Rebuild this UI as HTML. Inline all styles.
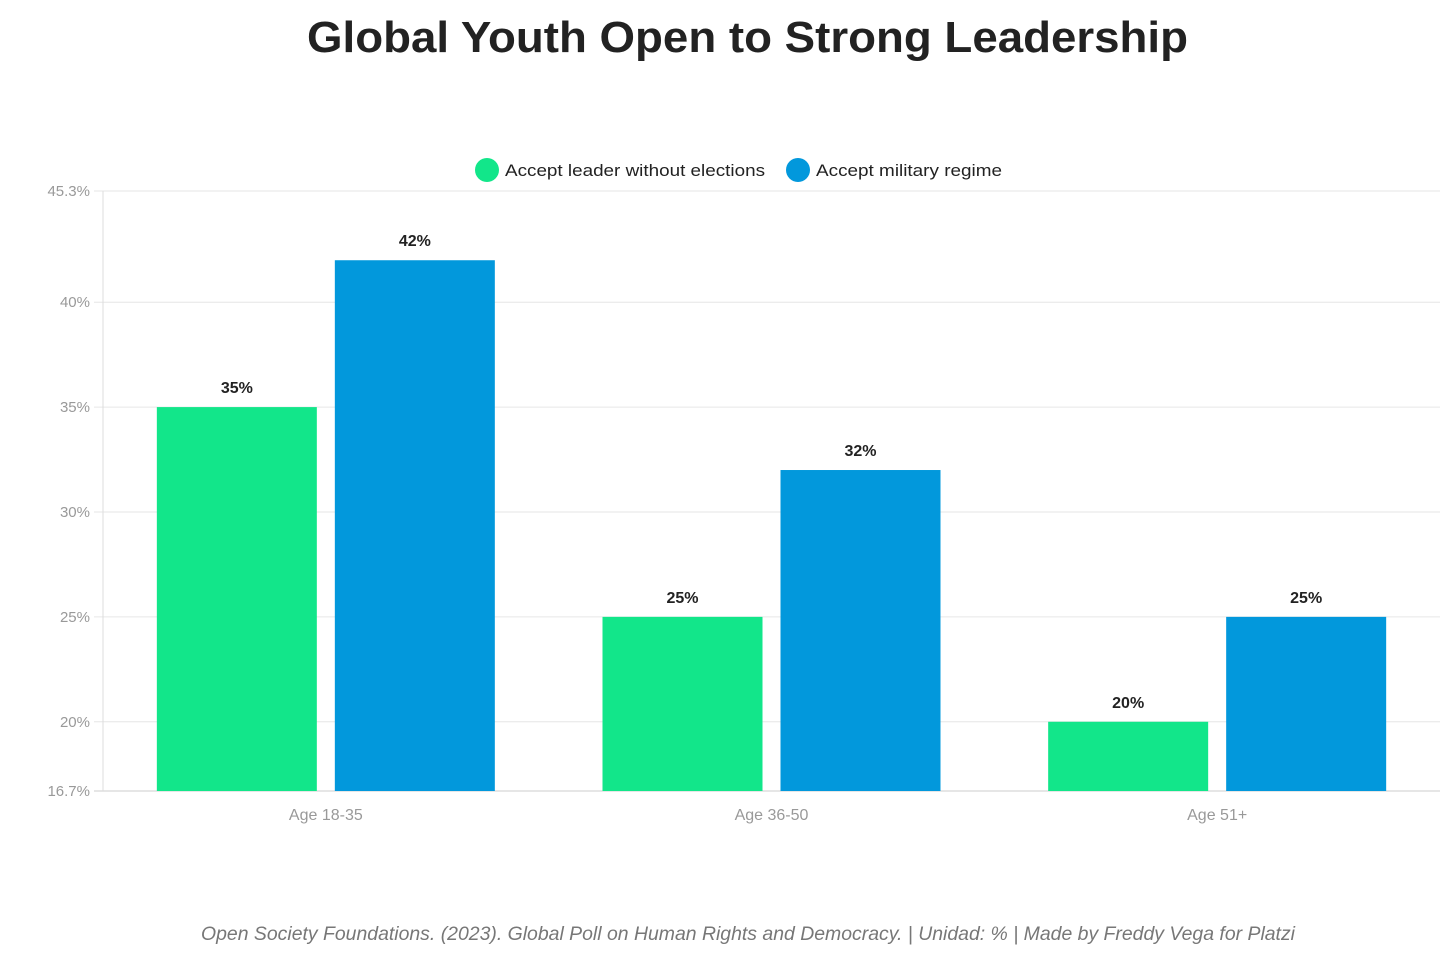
<!DOCTYPE html>
<html><head><meta charset="utf-8"><style>
body{margin:0;background:#fff;width:1456px;height:967px;overflow:hidden;font-family:"Liberation Sans",sans-serif;}
</style></head><body>
<svg id="chart" width="1456" height="967" xmlns="http://www.w3.org/2000/svg" font-family="Liberation Sans, sans-serif">
<text x="307" y="52" textLength="881" lengthAdjust="spacingAndGlyphs" font-size="44" font-weight="bold" fill="#222">Global Youth Open to Strong Leadership</text>
<g>
<circle cx="487" cy="170" r="12" fill="#12e68a"/>
<text x="505" y="176" textLength="260" lengthAdjust="spacingAndGlyphs" font-size="17" fill="#222">Accept leader without elections</text>
<circle cx="798" cy="170" r="12" fill="#0298dc"/>
<text x="816" y="176" textLength="186" lengthAdjust="spacingAndGlyphs" font-size="17" fill="#222">Accept military regime</text>
</g>
<g id="grid"></g><g id="bars"></g>
<text x="201" y="940" textLength="1094" lengthAdjust="spacingAndGlyphs" font-size="19" font-style="italic" fill="#777">Open Society Foundations. (2023). Global Poll on Human Rights and Democracy. | Unidad: % | Made by Freddy Vega for Platzi</text>
</svg>
<script>
const categories=["Age 18-35","Age 36-50","Age 51+"];
const leaderValues=[35,25,20];
const militaryValues=[42,32,25];
const tickValues=[16.7,20,25,30,35,40,45.3];
const tickLabels=["16.7%","20%","25%","30%","35%","40%","45.3%"];
const yMin=16.7,yMax=45.3,plotTop=191,plotBottom=791,plotLeft=103,plotRight=1440;
const yScale=v=>plotBottom-(v-yMin)/(yMax-yMin)*(plotBottom-plotTop);
const gw=(plotRight-plotLeft)/categories.length;
const NS="http://www.w3.org/2000/svg";
function mk(t,a,p){const e=document.createElementNS(NS,t);for(const k in a)e.setAttribute(k,a[k]);p.appendChild(e);return e;}
const grid=document.getElementById('grid'),bars=document.getElementById('bars');
tickValues.forEach((v,i)=>{
 const l=mk('line',{x1:94,x2:plotRight,y1:yScale(v),y2:yScale(v),stroke:i==0?'#ccc':'#e6e6e6','stroke-width':1},grid);
 
 
 const t=mk('text',{x:90,y:yScale(v)+5,'text-anchor':'end','font-size':15,fill:'#999'},grid);
 t.textContent=tickLabels[i];
 
 
});
const ax=mk('line',{x1:plotLeft,x2:plotLeft,y1:plotTop,y2:plotBottom,stroke:'#ddd'},grid);


const bw=160,gap=18;
categories.forEach((c,i)=>{
 const cx=plotLeft+gw*(i+0.5);
 [[leaderValues[i],'#12e68a',cx-gap/2-bw,'leader'],[militaryValues[i],'#0298dc',cx+gap/2,'military']].forEach(([v,col,x,s])=>{
  const r=mk('rect',{x:x,y:yScale(v),width:bw,height:plotBottom-yScale(v),fill:col},bars);
  
  
  const t=mk('text',{x:x+bw/2,y:yScale(v)-14,'text-anchor':'middle','font-size':16,'font-weight':'bold',fill:'#222'},bars);
  t.textContent=v+'%';
  
  
 });
 const t=mk('text',{x:cx,y:820,'text-anchor':'middle','font-size':16,fill:'#999'},bars);
 t.textContent=c;
 
 
});
</script>
</body></html>
